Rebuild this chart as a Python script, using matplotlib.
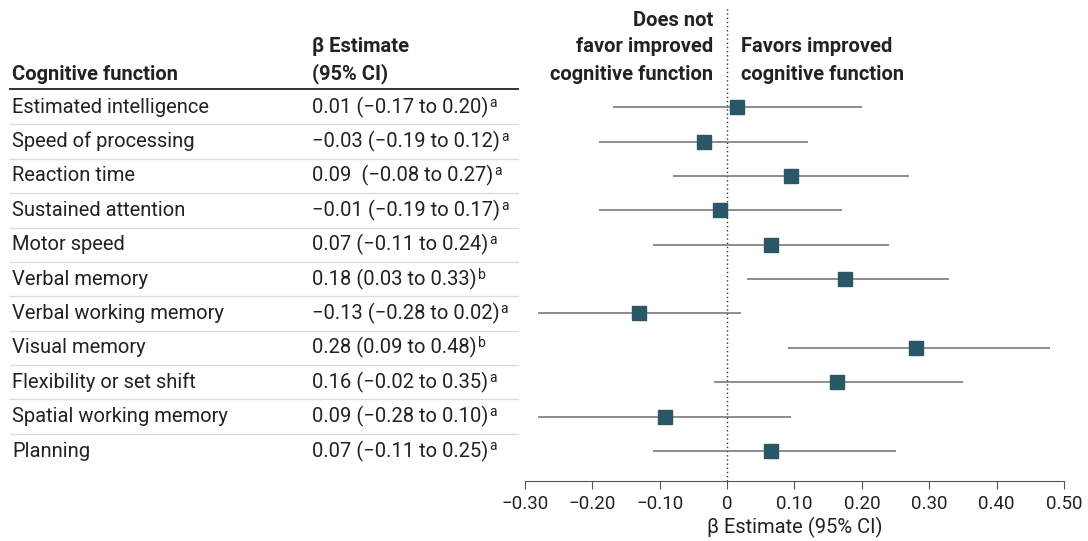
import matplotlib.pyplot as plt
import matplotlib.transforms as mtransforms
from matplotlib.lines import Line2D

# Data
functions = ['Estimated intelligence', 'Speed of processing', 'Reaction time',
             'Sustained attention', 'Motor speed', 'Verbal memory',
             'Verbal working memory', 'Visual memory', 'Flexibility or set shift',
             'Spatial working memory', 'Planning']
estimate_text = ['0.01 (\u22120.17 to 0.20)', '\u22120.03 (\u22120.19 to 0.12)',
                 '0.09  (\u22120.08 to 0.27)', '\u22120.01 (\u22120.19 to 0.17)',
                 '0.07 (\u22120.11 to 0.24)', '0.18 (0.03 to 0.33)',
                 '\u22120.13 (\u22120.28 to 0.02)', '0.28 (0.09 to 0.48)',
                 '0.16 (\u22120.02 to 0.35)', '0.09 (\u22120.28 to 0.10)',
                 '0.07 (\u22120.11 to 0.25)']
footnote = ['a', 'a', 'a', 'a', 'a', 'b', 'a', 'b', 'a', 'a', 'a']
beta = [0.015, -0.034, 0.095, -0.01, 0.065, 0.175, -0.13, 0.28, 0.163, -0.092, 0.065]
ci_low = [-0.17, -0.19, -0.08, -0.19, -0.11, 0.03, -0.28, 0.09, -0.02, -0.28, -0.11]
ci_high = [0.20, 0.12, 0.27, 0.17, 0.24, 0.33, 0.02, 0.48, 0.35, 0.095, 0.25]
xticks = [-0.3, -0.2, -0.1, 0, 0.1, 0.2, 0.3, 0.4, 0.5]
xtick_labels = ['\u22120.30', '\u22120.20', '\u22120.10', '0', '0.10', '0.20',
                '0.30', '0.40', '0.50']

plt.rcParams['font.family'] = ['Roboto', 'DejaVu Sans']
text_color = '#222222'
marker_color = '#2b5666'
fs = 14.5

fig = plt.figure(figsize=(10.88, 5.41), dpi=100)
ax = fig.add_axes([0.4825, 0.111, 0.4954, 0.874])

rows = list(range(len(functions)))
ax.hlines(rows, ci_low, ci_high, color='#6f6f6f', lw=1.1, zorder=2)
ax.plot(beta, rows, 's', color=marker_color, markersize=10, zorder=3)
ax.axvline(0, color='#333333', lw=1.0, ls=(0, (1, 2)), zorder=1)

ax.set_xlim(-0.3, 0.5)
ax.set_ylim(10.87, -2.88)
ax.set_xticks(xticks)
ax.set_xticklabels(xtick_labels, fontsize=13.5, color=text_color)
ax.set_yticks([])
for s in ['top', 'right', 'left']:
    ax.spines[s].set_visible(False)
ax.spines['bottom'].set_color('#555555')
ax.tick_params(axis='x', direction='out', length=6, color='#555555', pad=4)
ax.set_xlabel('\u03b2 Estimate (95% CI)', fontsize=fs, color=text_color, labelpad=3)

# header over the plot
ax.text(-0.02, -2.53, 'Does not', ha='right', va='center', fontsize=fs,
        fontweight='bold', color=text_color)
ax.text(-0.02, -1.77, 'favor improved', ha='right', va='center', fontsize=fs,
        fontweight='bold', color=text_color)
ax.text(-0.02, -0.96, 'cognitive function', ha='right', va='center', fontsize=fs,
        fontweight='bold', color=text_color)
ax.text(0.02, -1.77, 'Favors improved', ha='left', va='center', fontsize=fs,
        fontweight='bold', color=text_color)
ax.text(0.02, -0.96, 'cognitive function', ha='left', va='center', fontsize=fs,
        fontweight='bold', color=text_color)

# table on the left
tr = mtransforms.blended_transform_factory(fig.transFigure, ax.transData)
x1 = 12 / 1088
x2 = 312 / 1088
fig.text(x1, -0.96, 'Cognitive function', transform=tr, ha='left', va='center',
         fontsize=fs, fontweight='bold', color=text_color)
fig.text(x2, -1.77, '\u03b2 Estimate', transform=tr, ha='left', va='center',
         fontsize=fs, fontweight='bold', color=text_color)
fig.text(x2, -0.96, '(95% CI)', transform=tr, ha='left', va='center',
         fontsize=fs, fontweight='bold', color=text_color)
fig.add_artist(Line2D([10 / 1088, 518 / 1088], [-0.52, -0.52], transform=tr,
                      color='#333333', lw=1.4))

est_artists = []
for i in rows:
    fig.text(x1, i, functions[i], transform=tr, ha='left', va='center',
             fontsize=fs, color=text_color)
    t = fig.text(x2, i, estimate_text[i], transform=tr, ha='left', va='center',
                 fontsize=fs, color=text_color)
    est_artists.append(t)
    if i < len(functions) - 1:
        fig.add_artist(Line2D([10 / 1088, 518 / 1088], [i + 0.5, i + 0.5],
                              transform=tr, color='#dcdcdc', lw=1.0))

# footnote letters right after each estimate text
fig.canvas.draw()
renderer = fig.canvas.get_renderer()
for t, note in zip(est_artists, footnote):
    bb = t.get_window_extent(renderer)
    fig.text(bb.x1 + 1, bb.y1 + 1, note, transform=mtransforms.IdentityTransform(),
             fontsize=10, color=text_color, ha='left', va='top')

fig.savefig('out.png', dpi=100)
